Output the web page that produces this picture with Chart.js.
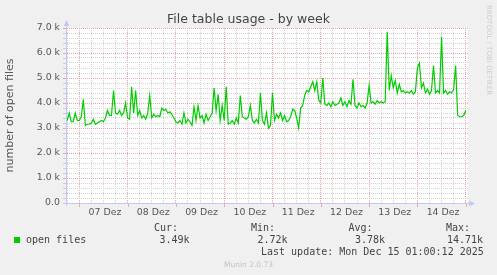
<!DOCTYPE html>
<html>
<head>
<meta charset="utf-8">
<script src="https://cdn.jsdelivr.net/npm/chart.js@4.4.1/dist/chart.umd.min.js"></script>
<style>
  html, body { margin: 0; padding: 0; background: #f0f0f0; }
  #wrap { position: relative; width: 497px; height: 275px; overflow: hidden; }
  #chart { position: absolute; left: 0; top: 0; }
  .t { position: absolute; white-space: pre; color: #555; }
  .sans { font-family: "DejaVu Sans", sans-serif; }
  .mono { font-family: "DejaVu Sans Mono", monospace; font-size: 10px; line-height: 10px; color: #444; }
  #title { left: 0; width: 497px; top: 13px; text-align: center; font-size: 12.5px; line-height: 12.5px; color: #444; }
  #swatch { position: absolute; left: 14px; top: 237px; width: 6px; height: 6px; background: #00cc00; }
  #munin { left: 0; width: 497px; text-align: center; top: 261px; font-size: 7.5px; line-height: 7.5px; color: #c4c4c4; }
  #rrd { left: 485px; top: 5px; font-size: 7px; line-height: 7px; color: #cdcdcd; writing-mode: vertical-rl; }
</style>
</head>
<body>
<div id="wrap">
  <canvas id="chart" width="497" height="275"></canvas>
  <div id="title" class="t sans">File table usage - by week</div>
  <div id="rrd" class="t sans">RRDTOOL / TOBI OETIKER</div>
  <div class="t mono" style="left:154px; top:223px;">Cur:</div>
  <div class="t mono" style="left:251px; top:223px;">Min:</div>
  <div class="t mono" style="left:348.5px; top:223px;">Avg:</div>
  <div class="t mono" style="left:446px; top:223px;">Max:</div>
  <div id="swatch"></div>
  <div class="t mono" style="left:26px; top:235px;">open files</div>
  <div class="t mono" style="left:159.5px; top:235px;">3.49k</div>
  <div class="t mono" style="left:257.5px; top:235px;">2.72k</div>
  <div class="t mono" style="left:355px; top:235px;">3.78k</div>
  <div class="t mono" style="left:447px; top:235px;">14.71k</div>
  <div class="t mono" style="left:261px; top:247px;">Last update: Mon Dec 15 01:00:12 2025</div>
  <div id="munin" class="t sans">Munin 2.0.73</div>
</div>
<script>
// hours relative to Mon 07 Dez 00:00, one reading per hour
const startHour = -6;
const dayLabels = ['07 Dez', '08 Dez', '09 Dez', '10 Dez', '11 Dez', '12 Dez', '13 Dez', '14 Dez'];

// open files
const openFiles = [
  3300, 3600, 3250, 3250, 3600, 3300,
  // 07 Dez
  3300, 3450, 4150, 3100, 3150, 3150, 3200, 3350, 3150, 3200, 3250, 3300,
  3250, 3400, 3700, 3500, 3500, 4500, 3600, 3550, 3700, 3500, 3600, 4000,
  // 08 Dez
  3400, 3350, 4650, 3600, 4500, 3500, 3700, 3400, 3500, 3350, 3600, 4300,
  3400, 3550, 3450, 3500, 3450, 3800, 3700, 3750, 3600, 3650, 3550, 3400,
  // 09 Dez
  3250, 3200, 3300, 3150, 3600, 3200, 3350, 3250, 3100, 3850, 3300, 3900,
  3400, 3500, 3200, 3550, 3300, 3450, 3600, 4600, 3700, 4350, 3300, 3900,
  // 10 Dez
  3300, 4650, 3150, 3200, 3300, 3150, 3400, 3200, 4300, 3450, 3400, 3350,
  3450, 3900, 3300, 3200, 3350, 3200, 4400, 3300, 3150, 3600, 3000, 3100,
  // 11 Dez
  4400, 3300, 3550, 3400, 3600, 3300, 3500, 3250, 3300, 3450, 3750, 3700,
  3400, 3000, 3800, 3900, 4300, 4500, 4450, 4650, 4850, 4500, 4850, 4100,
  // 12 Dez
  4000, 5000, 3950, 3900, 4000, 3850, 4050, 3900, 3950, 4000, 4200, 3900,
  4050, 3850, 4100, 3950, 4950, 3900, 3800, 4000, 3850, 3900, 3800, 4000,
  // 13 Dez
  4700, 4000, 4050, 3950, 4100, 4000, 4050, 4000, 4050, 6850, 4500, 5100,
  4600, 4900, 4400, 4750, 4450, 4500, 4400, 4450, 4400, 4500, 4350, 4450,
  // 14 Dez
  5400, 5600, 4600, 4800, 4400, 4550, 4350, 4500, 5500, 4400, 4500, 4400,
  6650, 4400, 4500, 4350, 4450, 4400, 4550, 5500, 3500, 3450, 3450, 3500,
  3700
];

const axisColor = '#c4c8f4';
const majorGrid = '#eaa6a6';
const minorGrid = '#d2d2d2';

const points = openFiles.map((v, i) => ({ x: startHour + i, y: v }));

// white plot background, blue axes with arrows, small ticks
const frame = {
    id: 'frame',
    beforeDraw(chart) {
        const { ctx, chartArea: a } = chart;
        ctx.save();
        ctx.fillStyle = '#ffffff';
        ctx.fillRect(a.left, a.top, a.right - a.left, a.bottom - a.top);
        ctx.restore();
    },
    afterDraw(chart) {
        const { ctx, chartArea: a, scales } = chart;
        ctx.save();
        ctx.lineWidth = 1;

        // y ticks on the axis
        scales.y.ticks.forEach(t => {
            const y = Math.round(scales.y.getPixelForValue(t.value)) + 0.5;
            ctx.strokeStyle = t.value % 1000 === 0 ? majorGrid : axisColor;
            ctx.beginPath();
            ctx.moveTo(a.left - 4, y);
            ctx.lineTo(a.left - 1, y);
            ctx.stroke();
        });
        // x ticks below the axis
        scales.x.ticks.forEach(t => {
            if (t.value % 24 !== 0) return;
            const x = Math.round(scales.x.getPixelForValue(t.value)) + 0.5;
            ctx.strokeStyle = majorGrid;
            ctx.beginPath();
            ctx.moveTo(x, a.bottom + 1);
            ctx.lineTo(x, a.bottom + 4);
            ctx.stroke();
        });

        ctx.strokeStyle = axisColor;
        ctx.beginPath();
        ctx.moveTo(a.left - 0.5, a.bottom + 3);
        ctx.lineTo(a.left - 0.5, a.top - 4);
        ctx.moveTo(a.left - 4, a.bottom + 0.5);
        ctx.lineTo(a.right + 2, a.bottom + 0.5);
        ctx.stroke();

        ctx.fillStyle = axisColor;
        ctx.beginPath();
        ctx.moveTo(a.left - 0.5, a.top - 8);
        ctx.lineTo(a.left - 3.5, a.top - 2);
        ctx.lineTo(a.left + 2.5, a.top - 2);
        ctx.closePath();
        ctx.fill();
        ctx.beginPath();
        ctx.moveTo(a.right + 7, a.bottom + 0.5);
        ctx.lineTo(a.right + 1, a.bottom - 2.5);
        ctx.lineTo(a.right + 1, a.bottom + 3.5);
        ctx.closePath();
        ctx.fill();
        ctx.restore();
    }
};

new Chart(document.getElementById('chart'), {
    type: 'line',
    data: {
        datasets: [{
            label: 'open files',
            data: points,
            borderColor: '#00cc00',
            borderWidth: 1.2,
            pointRadius: 0,
            tension: 0,
            fill: false
        }]
    },
    options: {
        responsive: false,
        animation: false,
        events: [],
        layout: { padding: { top: 28, right: 29, bottom: 0, left: 0 } },
        plugins: {
            legend: { display: false },
            title: { display: false },
            tooltip: { enabled: false }
        },
        scales: {
            x: {
                type: 'linear',
                min: -6.11,
                max: 193.14,
                afterFit: scale => { scale.height = 72; },
                afterBuildTicks: scale => {
                    const ticks = [];
                    for (let h = -6; h <= 192; h += 6) ticks.push({ value: h });
                    scale.ticks = ticks;
                },
                border: { display: false, dash: [1, 1] },
                grid: {
                    drawTicks: false,
                    lineWidth: 1,
                    color: ctx => (ctx.tick && ctx.tick.value % 24 === 0) ? majorGrid : minorGrid
                },
                ticks: {
                    autoSkip: false,
                    maxRotation: 0,
                    padding: 4,
                    labelOffset: 1.5,
                    color: '#555',
                    font: { family: 'DejaVu Sans', size: 9.4 },
                    callback: value => {
                        if ((value - 12) % 24 !== 0) return '';
                        return dayLabels[(value - 12) / 24] || '';
                    }
                }
            },
            y: {
                min: 0,
                max: 7000,
                afterFit: scale => { scale.width = 67; },
                border: { display: false, dash: [1, 1] },
                grid: {
                    drawTicks: false,
                    lineWidth: 1,
                    color: ctx => (ctx.tick && ctx.tick.value % 1000 === 0) ? majorGrid : minorGrid
                },
                ticks: {
                    stepSize: 200,
                    autoSkip: false,
                    padding: 7,
                    color: '#555',
                    font: { family: 'DejaVu Sans', size: 9.4 },
                    callback: value => {
                        if (value % 1000 !== 0) return '';
                        return value === 0 ? '0.0' : (value / 1000).toFixed(1) + ' k';
                    }
                },
                title: {
                    display: true,
                    text: 'number of open files',
                    color: '#555',
                    padding: { top: 4, bottom: 0 },
                    font: { family: 'DejaVu Sans', size: 11 }
                }
            }
        }
    },
    plugins: [frame]
});
</script>
</body>
</html>
